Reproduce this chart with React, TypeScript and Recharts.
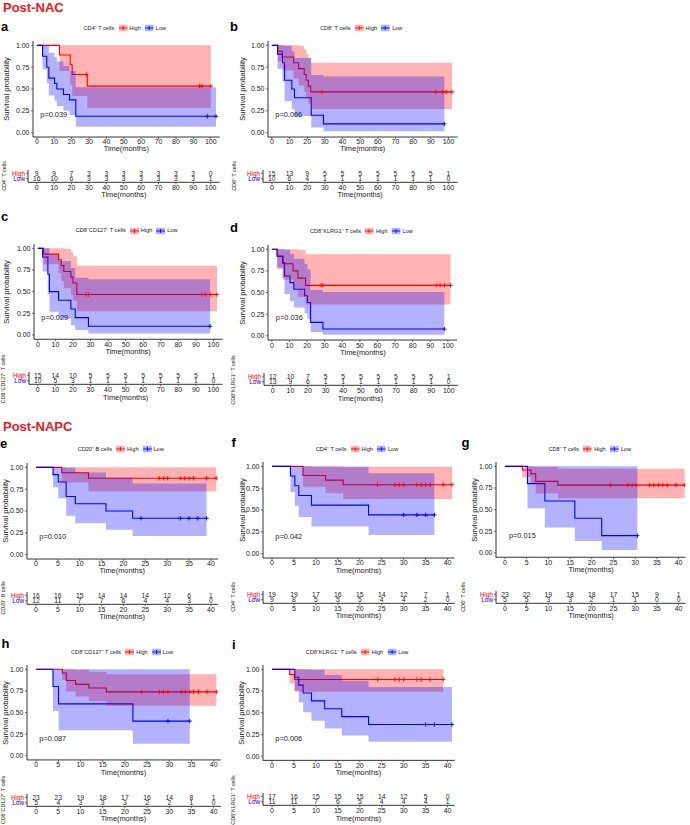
import React from 'react';
import { ComposedChart, Line, Area, Scatter, XAxis, YAxis } from 'recharts';

type Pt = [number, number, number, number]; // [time, survival, lower, upper]

// ---------- Post-NAC ----------
// a: CD4+ T cells
const aHigh: Pt[] = [[0, 1, 1, 1], [13, 0.889, 0.706, 1], [19.2, 0.778, 0.548, 1], [20.3, 0.667, 0.42, 1], [29, 0.533, 0.282, 1], [100, 0.533, 0.282, 1]];
const aLow: Pt[] = [[0, 1, 1, 1], [3.3, 0.875, 0.727, 1], [5.7, 0.75, 0.566, 0.995], [6.9, 0.625, 0.427, 0.914], [10.2, 0.5625, 0.365, 0.866], [11.5, 0.5, 0.306, 0.816], [15.3, 0.4375, 0.251, 0.763], [18.8, 0.375, 0.199, 0.706], [22.4, 0.1875, 0.068, 0.519], [103, 0.1875, 0.068, 0.519]];
const aHighCensor = [28.4, 93.5, 94.8, 100];
const aLowCensor = [98, 103];
const aHighRisk = [9, 9, 7, 3, 3, 3, 3, 3, 3, 3, 0];
const aLowRisk = [16, 10, 6, 3, 3, 3, 3, 3, 3, 3, 1];

// b: CD8+ T cells
const bHigh: Pt[] = [[0, 1, 1, 1], [3.4, 0.933, 0.815, 1], [6, 0.867, 0.711, 1], [12.3, 0.8, 0.621, 1], [15.1, 0.733, 0.54, 0.995], [18.3, 0.667, 0.466, 0.954], [19.4, 0.6, 0.397, 0.908], [20.6, 0.533, 0.332, 0.856], [22, 0.467, 0.272, 0.8], [102, 0.467, 0.272, 0.8]];
const bLow: Pt[] = [[0, 1, 1, 1], [3.2, 0.9, 0.732, 1], [6, 0.8, 0.587, 1], [7.2, 0.6, 0.362, 0.995], [11.3, 0.5, 0.269, 0.929], [12.8, 0.4, 0.187, 0.855], [22.3, 0.2, 0.058, 0.66], [29.2, 0.1, 0.016, 0.643], [97.7, 0.1, 0.016, 0.643]];
const bHighCensor = [28.3, 92.8, 96.6, 98.7, 102];
const bLowCensor = [97.7];
const bHighRisk = [15, 13, 9, 5, 5, 5, 5, 5, 5, 5, 1];
const bLowRisk = [10, 6, 4, 1, 1, 1, 1, 1, 1, 1, 0];

// c: CD8+CD127+ T cells
const cHigh: Pt[] = [[0, 1, 1, 1], [3.2, 0.933, 0.815, 1], [11.8, 0.867, 0.711, 1], [13.3, 0.8, 0.621, 1], [14.8, 0.733, 0.54, 0.995], [18.8, 0.667, 0.466, 0.954], [20, 0.6, 0.397, 0.908], [22.2, 0.467, 0.272, 0.8], [102, 0.467, 0.272, 0.8]];
const cLow: Pt[] = [[0, 1, 1, 1], [2.7, 0.9, 0.732, 1], [5.7, 0.7, 0.467, 1], [6.6, 0.5, 0.269, 0.929], [11.8, 0.4, 0.187, 0.855], [18.8, 0.3, 0.116, 0.774], [21.3, 0.2, 0.058, 0.66], [28.8, 0.1, 0.016, 0.643], [98.1, 0.1, 0.016, 0.643]];
const cHighCensor = [27.5, 28.8, 93.4, 95.4, 98.1, 101.9];
const cLowCensor = [98.1];
const cHighRisk = [15, 14, 10, 5, 5, 5, 5, 5, 5, 5, 1];
const cLowRisk = [10, 5, 3, 1, 1, 1, 1, 1, 1, 1, 0];

// d: CD8+KLRG1+ T cells
const dHigh: Pt[] = [[0, 1, 1, 1], [3, 0.917, 0.773, 1], [6.2, 0.833, 0.647, 1], [12, 0.75, 0.541, 1], [14.8, 0.667, 0.447, 0.995], [19.1, 0.583, 0.361, 0.942], [101.5, 0.583, 0.361, 0.942]];
const dLow: Pt[] = [[0, 1, 1, 1], [3, 0.923, 0.789, 1], [6.2, 0.846, 0.669, 1], [7.2, 0.692, 0.482, 0.994], [10.3, 0.615, 0.4, 0.945], [12.5, 0.538, 0.326, 0.89], [18.6, 0.462, 0.257, 0.831], [20.2, 0.385, 0.194, 0.765], [22, 0.154, 0.043, 0.53], [29, 0.077, 0.012, 0.506], [98, 0.077, 0.012, 0.506]];
const dHighCensor = [28, 29, 93.4, 95.6, 98.1, 101.5];
const dLowCensor = [98];
const dHighRisk = [12, 10, 7, 5, 5, 5, 5, 5, 5, 5, 1];
const dLowRisk = [13, 9, 6, 1, 1, 1, 1, 1, 1, 1, 0];

// ---------- Post-NAPC ----------
// e: CD20+ B cells
const eHigh: Pt[] = [[0, 1, 1, 1], [5.9, 0.9375, 0.826, 1], [12, 0.875, 0.727, 1], [41.2, 0.875, 0.727, 1]];
const eLow: Pt[] = [[0, 1, 1, 1], [3.9, 0.917, 0.773, 1], [5.1, 0.833, 0.647, 1], [6.9, 0.667, 0.447, 0.995], [9, 0.583, 0.361, 0.94], [16, 0.5, 0.284, 0.88], [22.1, 0.417, 0.213, 0.814], [39, 0.417, 0.213, 0.814]];
const eHighCensor = [28.2, 29.2, 30.1, 33, 34, 35, 36, 39, 41.2];
const eLowCensor = [24, 33, 35, 37, 39];
const eHighRisk = [16, 16, 15, 14, 14, 14, 12, 6, 1];
const eLowRisk = [12, 11, 7, 7, 6, 4, 4, 3, 0];

// f: CD4+ T cells
const fHigh: Pt[] = [[0, 1, 1, 1], [7.06, 0.895, 0.767, 1], [12.2, 0.842, 0.693, 1], [16.2, 0.789, 0.626, 0.995], [41, 0.789, 0.626, 0.995]];
const fLow: Pt[] = [[0, 1, 1, 1], [4.2, 0.889, 0.706, 1], [5.2, 0.778, 0.549, 1], [6.1, 0.667, 0.42, 1], [9, 0.556, 0.31, 0.997], [22, 0.444, 0.214, 0.922], [37, 0.444, 0.214, 0.922]];
const fHighCensor = [24, 28, 29, 30, 33, 34, 35, 36, 39, 41];
const fLowCensor = [30, 33, 35, 37];
const fHighRisk = [19, 19, 17, 16, 15, 14, 12, 7, 1];
const fLowRisk = [9, 8, 5, 5, 5, 4, 4, 2, 0];

// g: CD8+ T cells
const gHigh: Pt[] = [[0, 1, 1, 1], [4, 0.957, 0.877, 1], [6, 0.913, 0.805, 1], [7.1, 0.826, 0.685, 0.996], [12.2, 0.783, 0.631, 0.971], [41.4, 0.783, 0.631, 0.971]];
const gLow: Pt[] = [[0, 1, 1, 1], [5.2, 0.8, 0.516, 1], [9.2, 0.6, 0.293, 1], [16.1, 0.4, 0.137, 1], [22.3, 0.2, 0.035, 1], [30.5, 0.2, 0.035, 1]];
const gHighCensor = [24.3, 28.3, 29.3, 30.2, 33.3, 34.3, 35.4, 36.4, 37.4, 39.4, 41.4];
const gLowCensor = [30.5];
const gHighRisk = [23, 22, 19, 18, 18, 17, 15, 9, 1];
const gLowRisk = [5, 5, 3, 3, 2, 1, 1, 0, 0];

// h: CD8+CD127+ T cells
const hHigh: Pt[] = [[0, 1, 1, 1], [5.9, 0.957, 0.877, 1], [6.8, 0.87, 0.742, 1], [8.9, 0.826, 0.685, 0.996], [11.9, 0.783, 0.631, 0.971], [15.8, 0.739, 0.579, 0.942], [40.6, 0.739, 0.579, 0.942]];
const hLow: Pt[] = [[0, 1, 1, 1], [3.8, 0.8, 0.516, 1], [5.05, 0.6, 0.293, 1], [21.8, 0.4, 0.137, 1], [34.6, 0.4, 0.137, 1]];
const hHighCensor = [23.7, 27.8, 28.7, 29.7, 32.7, 33.6, 34.6, 35.5, 36.6, 38.5, 40.6];
const hLowCensor = [29.7, 34.6];
const hHighRisk = [23, 23, 19, 18, 17, 16, 14, 8, 1];
const hLowRisk = [5, 4, 3, 3, 3, 2, 2, 1, 0];

// i: CD8+KLRG1+ T cells
const iHigh: Pt[] = [[0, 1, 1, 1], [4, 0.941, 0.836, 1], [5.1, 0.882, 0.742, 1], [39, 0.882, 0.742, 1]];
const iLow: Pt[] = [[0, 1, 1, 1], [5.2, 0.909, 0.754, 1], [6.1, 0.818, 0.619, 1], [7.1, 0.727, 0.506, 1], [9, 0.636, 0.407, 0.994], [12, 0.545, 0.318, 0.934], [15.9, 0.455, 0.238, 0.869], [22, 0.364, 0.166, 0.796], [41, 0.364, 0.166, 0.796]];
const iHighCensor = [24.1, 28, 29, 30, 33, 34, 36, 39];
const iLowCensor = [35, 37, 41];
const iHighRisk = [17, 16, 15, 15, 15, 14, 12, 5, 0];
const iLowRisk = [11, 11, 7, 6, 5, 4, 4, 4, 1];

const yTicks = [0, 0.25, 0.5, 0.75, 1];
const groupLabels = ['High', 'Low'];

// ---------- styling ----------
const RED = '#FF0000';
const BLUE = '#0000FF';
const INK = '#1a1a1a';
const FONT = "'Liberation Sans', Arial, Helvetica, sans-serif";

interface Panel {
  letter: string; lx: number; lb: number;
  legendTitle: string; legendY: number; riskTitle: string;
  high: Pt[]; low: Pt[]; hc: number[]; lc: number[]; hr: number[]; lr: number[];
  pval: string; tMax: number; step: number;
  x0: number; xM: number; y1: number; y0: number;
  dom: [number, number]; rdom: [number, number];
  yTitleX: number; rTitleX: number; riskY: number;
}

const D100: [number, number] = [-2.2, 105.2];
const R100: [number, number] = [-5, 105.2];
const D40: [number, number] = [-2.05, 41.6];
const R40: [number, number] = [-2.05, 41.6];

const panels: Panel[] = [
  { letter: 'a', lx: 1, lb: 30.7, legendTitle: 'CD4⁺ T cells', legendY: 28, riskTitle: 'CD4⁺ T cells', high: aHigh, low: aLow, hc: aHighCensor, lc: aLowCensor, hr: aHighRisk, lr: aLowRisk, pval: 'p=0.039', tMax: 100, step: 10, x0: 36.7, xM: 210.7, y1: 45, y0: 132.3, dom: D100, rdom: R100, yTitleX: 7, rTitleX: 5, riskY: 173.3 },
  { letter: 'b', lx: 230, lb: 30.7, legendTitle: 'CD8⁺ T cells', legendY: 28, riskTitle: 'CD8⁺ T cells', high: bHigh, low: bLow, hc: bHighCensor, lc: bLowCensor, hr: bHighRisk, lr: bLowRisk, pval: 'p=0.066', tMax: 100, step: 10, x0: 271.7, xM: 448.3, y1: 45, y0: 132.3, dom: D100, rdom: R100, yTitleX: 242.7, rTitleX: 235, riskY: 173 },
  { letter: 'c', lx: 1, lb: 220, legendTitle: 'CD8⁺CD127⁺ T cells', legendY: 230.7, riskTitle: 'CD8⁺CD127⁺ T cells', high: cHigh, low: cLow, hc: cHighCensor, lc: cLowCensor, hr: cHighRisk, lr: cLowRisk, pval: 'p=0.029', tMax: 100, step: 10, x0: 37.7, xM: 213.3, y1: 248.7, y0: 335.3, dom: D100, rdom: R100, yTitleX: 7.3, rTitleX: 3.5, riskY: 375.7 },
  { letter: 'd', lx: 230, lb: 231.7, legendTitle: 'CD8⁺KLRG1⁺ T cells', legendY: 231, riskTitle: 'CD8⁺KLRG1⁺ T cells', high: dHigh, low: dLow, hc: dHighCensor, lc: dLowCensor, hr: dHighRisk, lr: dLowRisk, pval: 'p=0.036', tMax: 100, step: 10, x0: 272.3, xM: 448.3, y1: 249.3, y0: 335.7, dom: D100, rdom: R100, yTitleX: 242.7, rTitleX: 233.5, riskY: 376.7 },
  { letter: 'e', lx: 0, lb: 447.3, legendTitle: 'CD20⁺ B cells', legendY: 449, riskTitle: 'CD20⁺ B cells', high: eHigh, low: eLow, hc: eHighCensor, lc: eLowCensor, hr: eHighRisk, lr: eLowRisk, pval: 'p=0.010', tMax: 40, step: 5, x0: 35.7, xM: 210.7, y1: 467, y0: 554.3, dom: D40, rdom: R40, yTitleX: 6.2, rTitleX: 4, riskY: 595.3 },
  { letter: 'f', lx: 231.5, lb: 446, legendTitle: 'CD4⁺ T cells', legendY: 449, riskTitle: 'CD4⁺ T cells', high: fHigh, low: fLow, hc: fHighCensor, lc: fLowCensor, hr: fHighRisk, lr: fLowRisk, pval: 'p=0.042', tMax: 40, step: 5, x0: 271.7, xM: 447.3, y1: 466.7, y0: 554, dom: D40, rdom: R40, yTitleX: 242.7, rTitleX: 233.5, riskY: 594 },
  { letter: 'g', lx: 461.5, lb: 446.7, legendTitle: 'CD8⁺ T cells', legendY: 449, riskTitle: 'CD8⁺ T cells', high: gHigh, low: gLow, hc: gHighCensor, lc: gLowCensor, hr: gHighRisk, lr: gLowRisk, pval: 'p=0.015', tMax: 40, step: 5, x0: 505.3, xM: 679, y1: 466.7, y0: 553.3, dom: D40, rdom: R40, yTitleX: 475, rTitleX: 464, riskY: 594 },
  { letter: 'h', lx: 1.5, lb: 647.3, legendTitle: 'CD8⁺CD127⁺ T cells', legendY: 652, riskTitle: 'CD8⁺CD127⁺ T cells', high: hHigh, low: hLow, hc: hHighCensor, lc: hLowCensor, hr: hHighRisk, lr: hLowRisk, pval: 'p=0.087', tMax: 40, step: 5, x0: 35.7, xM: 213.3, y1: 669.7, y0: 756, dom: D40, rdom: R40, yTitleX: 6, rTitleX: 4, riskY: 797.3 },
  { letter: 'i', lx: 232, lb: 648.3, legendTitle: 'CD8⁺KLRG1⁺ T cells', legendY: 652, riskTitle: 'CD8⁺KLRG1⁺ T cells', high: iHigh, low: iLow, hc: iHighCensor, lc: iLowCensor, hr: iHighRisk, lr: iLowRisk, pval: 'p=0.006', tMax: 40, step: 5, x0: 271.7, xM: 447.3, y1: 669.3, y0: 756, dom: D40, rdom: R40, yTitleX: 241.7, rTitleX: 233.5, riskY: 796.7 },
];

// ---------- helpers ----------
const survAt = (pts: Pt[], t: number) => {
  let s = pts[0][1];
  for (const p of pts) if (p[0] <= t) s = p[1];
  return s;
};
const toSeries = (pts: Pt[]) => pts.map(([t, s, lo, hi]) => ({ t, s, band: [lo, hi] }));
const censorSeries = (pts: Pt[], cens: number[]) => cens.map((t) => ({ t, s: survAt(pts, t) }));
const tickList = (tMax: number, step: number) => Array.from({ length: tMax / step + 1 }, (_, i) => i * step);

const plusShape = (color: string) => (props: any) => {
  const { cx, cy } = props;
  if (cx == null || cy == null) return <g />;
  return <path d={`M${cx - 2.2},${cy}H${cx + 2.2}M${cx},${cy - 2.2}V${cy + 2.2}`} stroke={color} strokeWidth={0.9} fill="none" />;
};

function Txt(props: { x: number; y: number; size: number; children: React.ReactNode; anchor?: 'start' | 'middle'; color?: string; weight?: number; rot?: boolean }) {
  const { x, y, size, children, anchor = 'middle', color = INK, weight = 400, rot = false } = props;
  const tx = anchor === 'start' ? '0' : '-50%';
  return (
    <div style={{ position: 'absolute', left: x, top: y, transform: `translate(${tx}, -50%)${rot ? ' rotate(-90deg)' : ''}`, fontSize: size, lineHeight: 1, whiteSpace: 'nowrap', fontFamily: FONT, color, fontWeight: weight }}>
      {children}
    </div>
  );
}

function LegendKey({ color }: { color: string }) {
  return (
    <svg width={9} height={7} style={{ display: 'block' }}>
      <rect x={0} y={0} width={9} height={7} fill={color} fillOpacity={0.3} />
      <line x1={0} y1={3.5} x2={9} y2={3.5} stroke={color} strokeWidth={0.9} />
      <line x1={4.5} y1={1.5} x2={4.5} y2={5.5} stroke={color} strokeWidth={0.9} />
    </svg>
  );
}

const axisTick = { fontSize: 7, fill: INK, fontFamily: FONT };

function KMPanel({ p }: { p: Panel }) {
  const sx = (p.xM - p.x0) / p.tMax;
  const sy = p.y0 - p.y1;
  const plotLeft = p.x0 + p.dom[0] * sx;
  const plotRight = p.x0 + p.dom[1] * sx;
  const plotTop = p.y1 - 0.05 * sy;
  const plotBottom = p.y0 + 0.05 * sy;
  const YW = 40, XH = 20, MT = 6, MR = 6;
  const w = plotRight - plotLeft + YW + MR;
  const h = plotBottom - plotTop + MT + XH;
  const ticks = tickList(p.tMax, p.step);
  const hi = toSeries(p.high);
  const lo = toSeries(p.low);
  const hiC = censorSeries(p.high, p.hc);
  const loC = censorSeries(p.low, p.lc);
  const tEnd = Math.max(p.high[p.high.length - 1][0], p.low[p.low.length - 1][0]);
  const pvX = p.x0 + (tEnd / 50) * sx;
  const pvY = p.y0 - 0.2 * sy;

  // risk table geometry
  const rsx = sx;
  const rowPx = 5.5;
  const rLeft = p.x0 + p.rdom[0] * rsx;
  const rRight = p.x0 + p.rdom[1] * rsx;
  const rTop = p.riskY - 0.6 * rowPx;
  const rBottom = p.riskY + rowPx + 0.64 * rowPx;
  const RYW = 30, RXH = 12, RMT = 3, RMR = 6;
  const rw = rRight - rLeft + RYW + RMR;
  const rh = rBottom - rTop + RMT + RXH;
  const riskData = [
    ...ticks.map((t, i) => ({ t, y: 1, n: p.hr[i] })),
    ...ticks.map((t, i) => ({ t, y: 0, n: p.lr[i] })),
  ];

  const numShape = (props: any) => {
    const { cx, cy } = props;
    const n = props.payload?.n ?? props.n;
    if (cx == null || cy == null) return <g />;
    return (
      <text x={cx} y={cy} dy="0.36em" textAnchor="middle" fontSize={6.8} fill={INK} fontFamily={FONT}>
        {n}
      </text>
    );
  };

  const riskYTick = (props: any) => {
    const { x, y, payload } = props;
    const isHigh = payload.value === 1;
    return (
      <text x={x} y={y} dy="0.36em" textAnchor="end" fontSize={6.4} fill={isHigh ? RED : BLUE} fontFamily={FONT}>
        {isHigh ? groupLabels[0] : groupLabels[1]}
      </text>
    );
  };

  const axisLine = { stroke: '#000', strokeWidth: 0.8 };
  const tickLine = { stroke: '#333', strokeWidth: 0.7 };

  return (
    <>
      <div style={{ position: 'absolute', left: plotLeft - YW, top: plotTop - MT }}>
        <ComposedChart width={w} height={h} margin={{ top: MT, right: MR, bottom: 0, left: 0 }}>
          <XAxis type="number" dataKey="t" domain={p.dom} ticks={ticks} interval={0} allowDataOverflow height={XH} tickSize={2} tickMargin={0.5} axisLine={axisLine} tickLine={tickLine} tick={axisTick} />
          <YAxis type="number" dataKey="s" domain={[-0.05, 1.05]} ticks={yTicks} interval={0} allowDataOverflow width={YW} tickSize={2} tickMargin={1.5} tickFormatter={(v: number) => v.toFixed(2)} axisLine={axisLine} tickLine={tickLine} tick={axisTick} />
          <Line data={hi} dataKey="s" type="stepAfter" stroke={RED} strokeWidth={1.1} dot={false} isAnimationActive={false} />
          <Line data={lo} dataKey="s" type="stepAfter" stroke={BLUE} strokeWidth={1.1} dot={false} isAnimationActive={false} />
          <Area data={hi} dataKey="band" type="stepAfter" stroke="none" fill={RED} fillOpacity={0.3} isAnimationActive={false} {...({ zIndex: 450 } as any)} />
          <Area data={lo} dataKey="band" type="stepAfter" stroke="none" fill={BLUE} fillOpacity={0.3} isAnimationActive={false} {...({ zIndex: 460 } as any)} />
          <Scatter data={hiC} dataKey="s" shape={plusShape(RED)} isAnimationActive={false} />
          <Scatter data={loC} dataKey="s" shape={plusShape(BLUE)} isAnimationActive={false} />
        </ComposedChart>
      </div>
      <div style={{ position: 'absolute', left: rLeft - RYW, top: rTop - RMT }}>
        <ComposedChart width={rw} height={rh} margin={{ top: RMT, right: RMR, bottom: 0, left: 0 }}>
          <XAxis type="number" dataKey="t" domain={p.rdom} ticks={ticks} interval={0} allowDataOverflow height={RXH} tickSize={2} tickMargin={0.5} axisLine={axisLine} tickLine={tickLine} tick={axisTick} />
          <YAxis type="number" dataKey="y" domain={[-0.64, 1.6]} ticks={[0, 1]} interval={0} allowDataOverflow width={RYW} tickSize={2} tickMargin={1} axisLine={axisLine} tickLine={tickLine} tick={riskYTick} />
          <Scatter data={riskData} dataKey="y" shape={numShape} isAnimationActive={false} />
        </ComposedChart>
      </div>
      <Txt x={p.lx} y={p.lb - 4.5} size={13} weight={700} anchor="start" color="#000">{p.letter}</Txt>
      <div style={{ position: 'absolute', left: (plotLeft + plotRight) / 2 - 1.5, top: p.legendY, transform: 'translate(-50%, -50%)', display: 'flex', alignItems: 'center', fontSize: 5.6, lineHeight: 1, whiteSpace: 'nowrap', fontFamily: FONT, color: INK }}>
        <span style={{ marginRight: 4 }}>{p.legendTitle}</span>
        <LegendKey color={RED} />
        <span style={{ marginLeft: 2, marginRight: 4 }}>{groupLabels[0]}</span>
        <LegendKey color={BLUE} />
        <span style={{ marginLeft: 2 }}>{groupLabels[1]}</span>
      </div>
      <Txt x={p.yTitleX} y={(plotTop + plotBottom) / 2} size={7.6} rot>Survival probability</Txt>
      <Txt x={(plotLeft + plotRight) / 2} y={plotBottom + 12.5} size={7.4}>Time(months)</Txt>
      <Txt x={pvX} y={pvY} size={7.4} anchor="start">{p.pval}</Txt>
      <Txt x={p.rTitleX} y={(rTop + rBottom) / 2} size={5.4} rot>{p.riskTitle}</Txt>
      <Txt x={(rLeft + rRight) / 2} y={rBottom + 13} size={7.4}>Time(months)</Txt>
    </>
  );
}

export default function App() {
  return (
    <div style={{ position: 'absolute', left: 0, top: 0, width: 690, height: 825, background: '#fff', overflow: 'hidden', fontFamily: FONT }}>
      <Txt x={3} y={7.2} size={13} weight={700} anchor="start" color="#F0161B">Post-NAC</Txt>
      <Txt x={3} y={425.5} size={13} weight={700} anchor="start" color="#F0161B">Post-NAPC</Txt>
      {panels.map((p) => (
        <KMPanel key={p.letter} p={p} />
      ))}
    </div>
  );
}
